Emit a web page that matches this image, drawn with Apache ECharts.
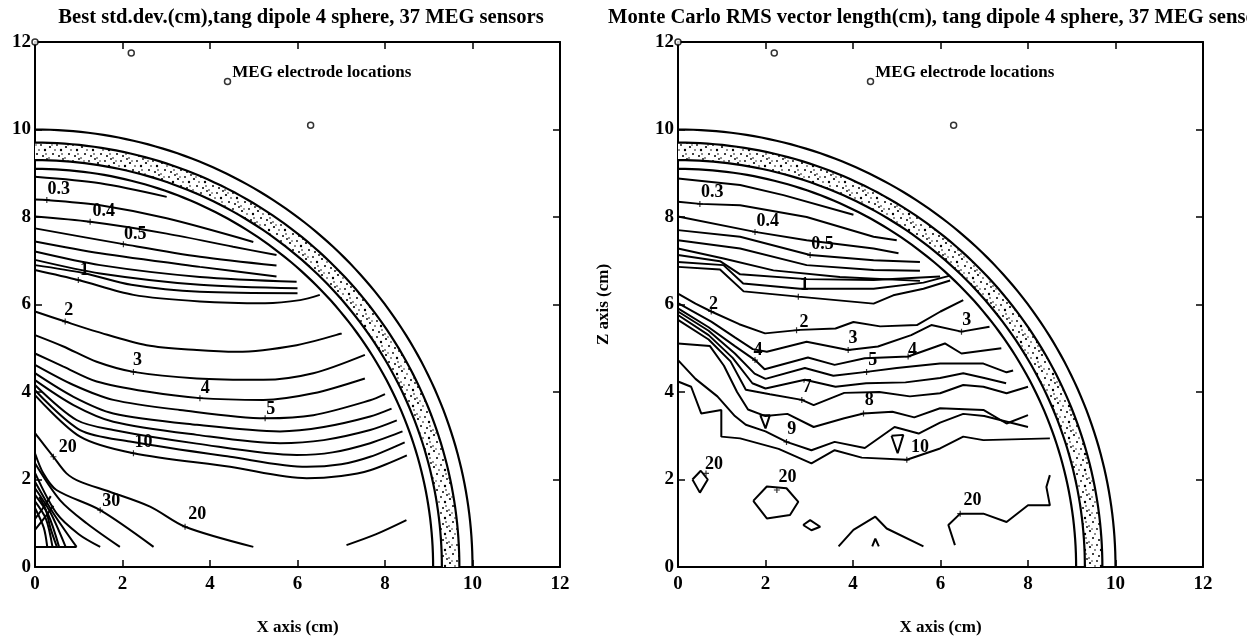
<!DOCTYPE html>
<html>
<head>
<meta charset="utf-8">
<script src="https://cdn.jsdelivr.net/npm/echarts/dist/echarts.min.js"></script>
<style>
  html, body { margin: 0; padding: 0; background: #fff; }
  #chart { width: 1247px; height: 642px; }
</style>
</head>
<body>
<div id="chart"></div>
<script>
// ---------- data (cm) ----------
const axisTicks = [0, 2, 4, 6, 8, 10, 12];
const shellRadii = [9.1, 9.3, 9.7, 10.0];       // brain, skull inner, skull outer, scalp
const skullBand = [9.3, 9.7];
const sensorX = [0, 2.2, 4.4, 6.3];
const sensorY = [12, 11.75, 11.1, 10.1];

const titleLeft = 'Best std.dev.(cm),tang dipole 4 sphere, 37 MEG sensors';
const titleRight = 'Monte Carlo RMS vector length(cm), tang dipole 4 sphere, 37 MEG sensors';

// Best std.dev. contours
const stdTop = [
  [[0,8.92],[1.49,8.77],[3.01,8.46]],
  [[0,8.40],[0.27,8.39],[1.49,8.27],[3.01,7.97],[4.99,7.43]],
  [[0,8.01],[1.26,7.89],[3.01,7.62],[4.53,7.32],[5.52,7.13]],
  [[0,7.74],[2.02,7.38],[3.77,7.09],[5.52,6.89]],
  [[0,7.44],[1.49,7.17],[3.77,6.86],[5.52,6.64]],
  [[0,7.21],[1.49,6.90],[3.77,6.63],[5.98,6.52]],
  [[0,7.02],[1.49,6.71],[3.77,6.45],[6.00,6.37]],
  [[0,6.90],[1.10,6.72],[2.20,6.45],[3.77,6.29],[6.00,6.26]],
  [[0,6.79],[0.99,6.56],[2.25,6.22],[3.77,6.07],[5.26,6.03],[6.06,6.10],[6.51,6.22]]
];
const stdMid = [
  [[0,5.84],[0.69,5.61],[1.41,5.38],[2.55,5.07],[3.70,4.96],[4.61,4.92],[5.98,5.07],[7.01,5.34]],
  [[0,5.30],[0.65,5.04],[1.41,4.69],[2.25,4.46],[3.70,4.31],[5.22,4.28],[6.36,4.43],[7.54,4.85]],
  [[0,4.88],[0.65,4.58],[1.41,4.24],[2.55,4.01],[3.77,3.86],[5.22,3.82],[6.36,3.97],[7.54,4.31]],
  [[0,4.62],[0.88,4.16],[1.79,3.82],[3.31,3.59],[5.26,3.40],[6.36,3.47],[7.66,3.81],[8.00,3.95]],
  [[0,4.43],[0.88,3.89],[1.79,3.51],[3.70,3.25],[5.60,3.10],[6.60,3.20],[7.66,3.44],[8.15,3.62]],
  [[0,4.27],[0.88,3.70],[1.79,3.32],[3.70,3.02],[5.60,2.83],[6.60,2.90],[7.66,3.13],[8.27,3.35]],
  [[0,4.16],[0.95,3.36],[1.79,3.13],[3.70,2.82],[5.98,2.56],[6.80,2.62],[7.66,2.83],[8.40,3.10]],
  [[0,4.04],[1.03,3.13],[2.17,2.87],[4.46,2.52],[6.21,2.29],[7.00,2.35],[7.66,2.52],[8.45,2.85]],
  [[0,3.93],[1.03,2.98],[2.25,2.60],[4.46,2.29],[6.21,2.03],[7.00,2.08],[7.66,2.21],[8.50,2.55]]
];
const stdLow = [
  [[0,3.06],[0.42,2.52],[0.72,2.14],[1.03,1.95],[1.71,1.72],[2.63,1.38],[3.43,0.92],[4.99,0.46]],
  [[7.12,0.50],[7.80,0.75],[8.49,1.07]],
  [[0,2.60],[0.19,2.14],[0.49,1.76],[1.49,1.30],[2.71,0.46]],
  [[0,2.37],[0.57,1.53],[1.18,1.00],[1.94,0.46]],
  [[0,2.15],[0.49,1.23],[1.00,0.75],[1.49,0.46]],
  [[0,1.95],[0.42,1.23],[0.95,0.46]],
  [[0,1.80],[0.35,1.25],[0.70,0.46]],
  [[0,1.65],[0.30,1.20],[0.55,0.46]],
  [[0,1.50],[0.25,1.10],[0.40,0.46]],
  [[0,1.35],[0.20,0.90],[0.28,0.46]],
  [[0,1.10],[0.22,1.40],[0.36,1.62]],
  [[0,0.85],[0.26,1.18],[0.42,1.40]],
  [[0.10,1.60],[0.25,1.30],[0.35,0.90],[0.50,0.46]],
  [[0,0.46],[0.95,0.46]]
];
const stdLabels = [
  [0.54,8.63,'0.3'],[1.57,8.12,'0.4'],[2.29,7.60,'0.5'],[1.13,6.79,'1'],
  [0.77,5.87,'2'],[2.34,4.73,'3'],[3.89,4.08,'4'],[5.39,3.61,'5'],
  [2.48,2.85,'10'],[0.75,2.73,'20'],[1.74,1.50,'30'],[3.71,1.20,'20']
];
const stdMarks = [
  [0.27,8.39],[1.26,7.89],[2.02,7.38],[0.99,6.56],[0.69,5.61],[2.25,4.46],
  [3.77,3.86],[5.26,3.40],[2.25,2.60],[0.42,2.52],[1.49,1.30],[3.43,0.92]
];

// Monte Carlo RMS contours
const rmsTop = [
  [[0,8.88],[1.42,8.73],[2.41,8.50],[4.01,8.05]],
  [[0,8.35],[0.50,8.30],[1.42,8.27],[2.94,8.00],[4.47,7.55],[5.00,7.47]],
  [[0,8.01],[1.76,7.66],[2.94,7.47],[4.47,7.28],[5.04,7.17]],
  [[0,7.70],[1.42,7.55],[3.02,7.13],[4.47,7.01],[5.53,6.97]],
  [[0,7.47],[1.42,7.28],[2.94,6.90],[4.47,6.79],[5.53,6.77]],
  [[0,7.28],[1.04,7.05],[2.18,6.78],[3.70,6.63],[5.53,6.54]],
  [[0,7.13],[0.96,6.99],[1.42,6.69],[2.94,6.58],[4.47,6.56],[5.99,6.64]],
  [[0,6.97],[1.04,6.90],[1.49,6.48],[2.79,6.36],[4.47,6.36],[5.61,6.50],[6.22,6.66]],
  [[0,6.86],[0.96,6.80],[1.50,6.30],[2.75,6.18],[4.47,6.02],[4.92,6.21],[5.61,6.36],[6.22,6.55]]
];
const rmsMid = [
  [[0,6.25],[0.40,6.02],[0.76,5.84],[1.40,5.55],[1.99,5.34],[2.79,5.42],[3.60,5.45],[4.01,5.60],[4.62,5.50],[5.46,5.53],[6.00,5.84],[6.52,6.10]],
  [[0,6.03],[0.76,5.61],[1.30,5.25],[1.71,4.98],[2.03,4.92],[2.94,5.15],[3.89,4.96],[4.57,5.04],[5.33,5.30],[5.79,5.53],[6.48,5.38],[7.12,5.49]],
  [[0,5.91],[0.70,5.48],[1.30,5.05],[1.76,4.73],[1.98,4.52],[2.97,4.79],[3.58,4.62],[4.27,4.77],[5.26,4.81],[6.10,5.11],[6.48,4.88],[7.39,5.00]],
  [[0,5.84],[0.70,5.40],[1.30,4.88],[1.75,4.42],[2.00,4.30],[2.90,4.55],[3.55,4.37],[4.31,4.46],[5.00,4.55],[5.99,4.65],[6.98,4.65],[7.51,4.45],[7.66,4.49]],
  [[0,5.76],[0.70,5.30],[1.25,4.78],[1.70,4.20],[2.00,4.08],[2.90,4.28],[3.60,4.12],[4.30,4.20],[5.20,4.22],[5.99,4.32],[6.52,4.43],[7.00,4.32],[7.50,4.20]],
  [[0,5.65],[0.70,5.20],[1.20,4.70],[1.55,4.05],[2.10,3.95],[2.83,3.82],[3.10,3.70],[3.80,3.98],[4.60,4.00],[5.30,3.90],[5.99,3.97],[6.52,4.16],[6.98,4.12],[7.51,3.97],[8.00,4.12]],
  [[0,5.11],[0.73,5.05],[1.05,4.60],[1.35,4.00],[1.60,3.60],[2.00,3.45],[2.50,3.50],[3.10,3.20],[3.80,3.40],[4.24,3.51],[4.90,3.55],[5.40,3.42],[5.99,3.63],[6.98,3.59],[7.51,3.28],[8.00,3.47]],
  [[0,4.73],[0.40,4.30],[0.90,3.90],[1.30,3.45],[1.55,3.25],[2.00,3.10],[2.48,2.86],[3.05,2.67],[3.58,2.86],[4.27,2.72],[4.95,3.20],[5.50,3.05],[5.99,3.30],[6.52,3.50],[7.00,3.45],[8.00,3.20]],
  [[0,4.24],[0.30,4.12],[0.53,3.51],[0.99,3.59],[0.99,2.98],[1.42,2.94],[2.30,2.70],[3.05,2.37],[3.58,2.67],[4.20,2.50],[5.23,2.45],[5.99,2.71],[6.52,2.98],[6.98,2.90],[8.50,2.94]]
];
const rmsClosed = [
  [[1.88,3.47],[2.10,3.47],[2.00,3.17],[1.88,3.47]],
  [[4.88,3.00],[5.15,3.02],[5.02,2.60],[4.88,3.00]],
  [[0.33,2.00],[0.52,2.20],[0.68,2.00],[0.50,1.70],[0.33,2.00]],
  [[1.72,1.51],[2.03,1.84],[2.48,1.80],[2.75,1.49],[2.56,1.19],[2.03,1.11],[1.72,1.51]],
  [[2.86,0.96],[3.02,1.07],[3.25,0.92],[3.05,0.84],[2.86,0.96]],
  [[3.67,0.47],[4.01,0.85],[4.51,1.15],[4.77,0.88],[5.61,0.47]],
  [[4.44,0.47],[4.51,0.65],[4.59,0.47]],
  [[6.33,0.50],[6.18,0.96],[6.45,1.22],[6.98,1.22],[7.51,1.03],[8.00,1.41],[8.50,1.41],[8.42,1.83],[8.50,2.10]]
];
const rmsLabels = [
  [0.78,8.57,'0.3'],[2.05,7.89,'0.4'],[3.30,7.37,'0.5'],[2.89,6.43,'1'],
  [0.81,6.01,'2'],[2.88,5.59,'2'],[4.00,5.23,'3'],[6.60,5.64,'3'],
  [1.83,4.96,'4'],[5.36,4.96,'4'],[4.45,4.72,'5'],[2.95,4.10,'7'],
  [4.37,3.80,'8'],[2.60,3.14,'9'],[5.53,2.73,'10'],
  [0.82,2.34,'20'],[2.50,2.04,'20'],[6.73,1.52,'20']
];
const rmsMarks = [
  [0.50,8.30],[1.76,7.66],[3.02,7.13],[2.75,6.18],[0.76,5.84],[2.71,5.41],
  [3.89,4.96],[6.48,5.38],[1.76,4.73],[5.26,4.81],[4.31,4.46],[2.83,3.82],
  [4.24,3.51],[2.48,2.86],[5.23,2.45],[0.64,2.14],[2.26,1.76],[6.45,1.22]
];

// ---------- styling helpers ----------
const SERIF = '"Liberation Serif", "Times New Roman", serif';
const INK = '#000';
const plainText = { color: INK, textBorderWidth: 0, textBorderColor: 'transparent', textShadowBlur: 0, opacity: 1 };

// speckled fill for the skull shell
function speckle() {
  const c = document.createElement('canvas');
  c.width = 16; c.height = 16;
  const g = c.getContext('2d');
  g.fillStyle = '#fff'; g.fillRect(0, 0, 16, 16);
  g.fillStyle = '#000';
  const dots = [[2,3,1.1],[9,1,0.9],[13,6,1.2],[5,10,1.0],[11,12,1.0],[1,14,0.8],[7,6,0.8],[15,15,0.9],[4,1,0.7],[14,10,0.8]];
  dots.forEach(([x, y, r]) => { g.beginPath(); g.arc(x, y, r, 0, Math.PI * 2); g.fill(); });
  return c;
}
const shellPattern = { image: speckle(), repeat: 'repeat' };

function arcPoints(api, r, a0, a1, step) {
  const pts = [];
  const n = Math.max(1, Math.round(Math.abs(a1 - a0) / step));
  for (let i = 0; i <= n; i++) {
    const t = (a0 + i * (a1 - a0) / n) * Math.PI / 180;
    pts.push(api.coord([r * Math.cos(t), r * Math.sin(t)]));
  }
  return pts;
}

function axesFor(g, withZName) {
  const tickStyle = { show: true, inside: true, length: 7, lineStyle: { color: INK, width: 1.5 } };
  const lineStyle = { show: true, onZero: false, lineStyle: { color: INK, width: 2 } };
  const lab = { color: INK, fontFamily: SERIF, fontWeight: 'bold', fontSize: 19 };
  const nameStyle = { color: INK, fontFamily: SERIF, fontWeight: 'bold', fontSize: 17 };
  const x = [
    { type: 'value', gridIndex: g, position: 'bottom', min: 0, max: 12, interval: 2,
      axisLine: lineStyle, axisTick: tickStyle, splitLine: { show: false },
      axisLabel: Object.assign({ margin: 8 }, lab),
      name: 'X axis (cm)', nameLocation: 'middle', nameGap: 52, nameTextStyle: nameStyle },
    { type: 'value', gridIndex: g, position: 'top', min: 0, max: 12, interval: 2,
      axisLine: lineStyle, axisTick: tickStyle, splitLine: { show: false }, axisLabel: { show: false } }
  ];
  const y = [
    { type: 'value', gridIndex: g, position: 'left', min: 0, max: 12, interval: 2,
      axisLine: lineStyle, axisTick: tickStyle, splitLine: { show: false },
      axisLabel: Object.assign({ margin: 4 }, lab),
      name: withZName ? 'Z axis (cm)' : '', nameLocation: 'middle', nameGap: 66, nameTextStyle: nameStyle },
    { type: 'value', gridIndex: g, position: 'right', min: 0, max: 12, interval: 2,
      axisLine: lineStyle, axisTick: tickStyle, splitLine: { show: false }, axisLabel: { show: false } }
  ];
  return { x, y };
}

function panelSeries(axisIdx, lines, smooth) {
  const xi = axisIdx * 2, yi = axisIdx * 2;
  const out = [];
  // skull shell band
  out.push({
    type: 'custom', xAxisIndex: xi, yAxisIndex: yi, silent: true, animation: false, z: 2,
    data: [[skullBand[0], skullBand[1]]],
    renderItem: (p, api) => {
      const inner = arcPoints(api, api.value(0), 0, 90, 1);
      const outer = arcPoints(api, api.value(1), 90, 0, 1);
      return { type: 'polygon', shape: { points: inner.concat(outer) }, style: { fill: shellPattern, stroke: null } };
    }
  });
  // shell outlines
  out.push({
    type: 'custom', xAxisIndex: xi, yAxisIndex: yi, silent: true, animation: false, z: 3,
    data: shellRadii.map(r => [r, 0]),
    renderItem: (p, api) => ({
      type: 'polyline', shape: { points: arcPoints(api, api.value(0), 0, 90, 1) },
      style: { stroke: INK, lineWidth: 2.2, fill: null }
    })
  });
  // contours
  lines.forEach(pts => out.push({
    type: 'line', xAxisIndex: xi, yAxisIndex: yi, data: pts, symbol: 'none', smooth: smooth,
    lineStyle: { color: INK, width: 2 }, silent: true, animation: false, z: 4
  }));
  return out;
}

function labelSeries(axisIdx, labels, marks) {
  const xi = axisIdx * 2, yi = axisIdx * 2;
  return [
    { type: 'scatter', xAxisIndex: xi, yAxisIndex: yi, symbolSize: 0, silent: true, animation: false, z: 6,
      itemStyle: { color: INK },
      data: labels.map(([x, y, t]) => ({ value: [x, y], name: t })),
      label: Object.assign({ show: true, position: 'inside', formatter: '{b}',
               fontFamily: SERIF, fontWeight: 'bold', fontSize: 18 }, plainText) },
    { type: 'scatter', xAxisIndex: xi, yAxisIndex: yi, silent: true, animation: false, z: 6,
      symbol: 'path://M4,0H6V4H10V6H6V10H4V6H0V4H4Z', symbolSize: 6,
      itemStyle: { color: INK }, data: marks }
  ];
}

function sensorSeries(axisIdx) {
  const xi = axisIdx * 2, yi = axisIdx * 2;
  return {
    type: 'scatter', xAxisIndex: xi, yAxisIndex: yi, clip: false, silent: true, animation: false, z: 7,
    symbol: 'circle', symbolSize: 6,
    itemStyle: { color: '#fff', borderColor: INK, borderWidth: 1.5 },
    data: sensorX.map((x, i) => ({
      value: [x, sensorY[i]],
      label: i === 2 ? Object.assign({ show: true, position: 'right', distance: 1, offset: [0, -9],
        formatter: 'MEG electrode locations', fontFamily: SERIF,
        fontWeight: 'bold', fontSize: 17 }, plainText) : { show: false }
    }))
  };
}

const A = axesFor(0, false), B = axesFor(1, true);

const chart = echarts.init(document.getElementById('chart'), null, { renderer: 'canvas' });
chart.setOption({
  backgroundColor: '#fff',
  animation: false,
  grid: [
    { left: 35, top: 42, width: 525, height: 525 },
    { left: 678, top: 42, width: 525, height: 525 }
  ],
  xAxis: A.x.concat(B.x),
  yAxis: A.y.concat(B.y),
  graphic: [
    { type: 'text', x: 301, y: 18, style: { text: titleLeft, fill: INK,
      font: 'bold 20.6px ' + SERIF, textAlign: 'center', textVerticalAlign: 'middle' } },
    { type: 'text', x: 940.5, y: 18, style: { text: titleRight, fill: INK,
      font: 'bold 20.6px ' + SERIF, textAlign: 'center', textVerticalAlign: 'middle' } }
  ],
  series: [].concat(
    panelSeries(0, stdTop.concat(stdMid, stdLow), 0.3),
    labelSeries(0, stdLabels, stdMarks),
    sensorSeries(0),
    panelSeries(1, rmsTop.concat(rmsMid, rmsClosed), false),
    labelSeries(1, rmsLabels, rmsMarks),
    sensorSeries(1)
  )
});
</script>
</body>
</html>
